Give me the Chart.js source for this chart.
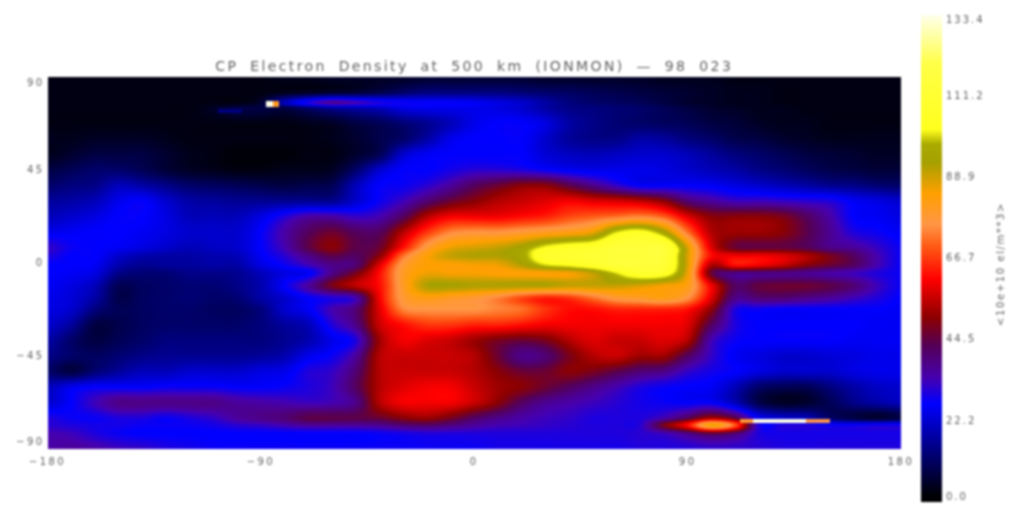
<!DOCTYPE html>
<html>
<head>
<meta charset="utf-8">
<script src="https://cdn.jsdelivr.net/npm/chart.js@4"></script>
<style>
  html, body { margin: 0; background: #fff; overflow: hidden; }
  canvas { position: absolute; top: 0; filter: blur(1px); }
  #map { left: 0; }
  #bar { left: 915px; }
</style>
</head>
<body>
<canvas id="map" width="1013" height="512"></canvas>
<canvas id="bar" width="98" height="512"></canvas>
<script>
// Electron density, one row per latitude
const lons = [-180,-170,-160,-150,-140,-130,-120,-110,-100,-90,-80,-70,-60,-50,-40,-30,-20,-10,0,10,20,30,40,50,60,70,80,90,100,110,120,130,140,150,160,170,180];
const lats = [90,82.5,77.5,75,67.5,60,52.5,45,37.5,30,22.5,15,7.5,3.5,-1,-5,-11,-17,-22.5,-30,-37.5,-45,-52.5,-60,-67.5,-75,-78.5,-82.5,-90];
const density = [
  [3,3,3,3,3,3,3,3,3,3,4,4,5,5,5,5,6,6,6,6,6,5,5,5,5,5,4,4,4,3,3,3,3,3,3,3,3],
  [3,3,3,3,3,3,3,3,3,3,4,5,6,7,9,12,14,14,14,14,13,12,11,10,9,8,7,6,5,4,4,3,3,3,3,3,3],
  [3,3,3,3,3,3,3,3,3,6,20,30,37,34,30,28,27,27,26,24,22,18,14,12,11,10,8,6,5,4,4,3,3,3,3,3,3],
  [3,3,3,3,3,3,3,5,8,8,8,12,16,18,20,24,25,25,25,24,22,18,15,14,13,12,10,8,6,5,4,4,3,3,3,3,3],
  [3,3,3,3,3,3,3,3,3,3,3,4,5,8,10,13,16,20,25,27,27,24,18,15,13,12,11,10,8,7,5,4,4,3,3,3,3],
  [4,4,5,5,5,4,3,3,3,3,3,3,4,6,9,12,18,25,27,27,27,22,17,15,15,18,17,14,12,9,8,6,5,4,4,4,4],
  [4,6,8,8,8,6,4,3,2,2,2,3,3,6,10,22,26,27,27,27,27,23,21,20,21,22,22,20,17,14,12,10,8,7,6,5,5],
  [8,10,12,12,10,7,5,4,3,3,4,4,5,12,22,27,27,29,31,31,30,28,26,25,25,25,24,22,20,18,15,13,11,9,8,7,7],
  [12,14,15,20,18,15,12,11,10,9,8,9,10,20,27,28,31,36,42,46,50,50,44,38,32,27,27,27,26,24,22,20,18,16,15,13,12],
  [17,18,20,25,27,22,18,17,16,16,16,16,16,22,28,33,40,46,50,54,56,58,60,58,57,55,50,40,36,33,33,32,31,30,26,24,22],
  [20,22,24,27,27,24,20,20,20,24,30,35,35,32,34,42,54,60,60,60,62,64,68,70,72,74,70,58,50,50,50,48,42,35,27,26,24],
  [25,26,27,27,26,24,22,22,22,27,35,42,46,42,42,54,66,74,76,76,78,80,82,86,100,104,94,72,54,52,52,50,44,37,30,28,26],
  [32,28,27,26,24,22,20,21,22,27,34,44,50,44,46,62,78,86,88,90,94,102,106,108,114,114,114,88,58,46,45,45,43,38,36,32,28],
  [30,27,27,22,19,18,18,19,20,26,31,38,44,42,50,72,84,90,92,92,96,108,110,112,114,114,114,88,62,60,60,58,54,48,42,34,28],
  [27,27,26,19,16,17,17,18,18,24,28,33,38,40,58,78,84,84,85,86,92,100,103,108,114,114,112,88,54,62,60,56,50,46,42,34,28],
  [27,26,24,15,13,13,15,15,16,20,24,26,38,48,62,80,86,85,85,84,84,84,85,90,100,108,106,86,46,38,38,38,37,35,33,30,28],
  [26,24,20,10,11,12,13,13,15,19,27,36,48,55,62,80,92,93,92,92,92,92,90,90,90,88,85,82,60,42,45,46,46,44,40,33,28],
  [25,23,18,9,11,12,13,12,13,18,22,27,30,34,60,78,82,80,78,74,68,64,66,72,78,80,82,76,58,38,40,40,38,36,33,30,27],
  [24,22,14,10,11,12,12,11,11,14,22,26,34,40,58,74,76,76,76,74,72,66,62,62,64,64,64,62,50,30,28,27,27,27,27,27,26],
  [22,17,8,9,11,12,12,12,12,14,17,20,30,38,56,62,66,66,64,64,62,60,60,60,60,60,60,58,42,30,27,27,27,27,27,26,26],
  [18,12,8,10,12,14,14,14,14,14,16,19,25,30,52,60,58,56,52,48,46,48,54,58,56,56,58,54,34,28,27,27,27,27,26,26,26],
  [15,12,11,13,15,16,16,16,16,17,19,25,28,36,54,56,56,56,54,46,38,40,48,54,56,52,52,42,32,26,24,22,22,23,24,25,25],
  [12,8,13,17,20,20,22,22,22,24,25,30,32,40,54,56,56,56,54,50,46,46,50,48,44,40,38,32,29,27,24,22,22,22,24,25,25],
  [20,25,27,27,27,28,28,28,27,27,28,30,33,42,54,58,60,60,56,52,50,46,42,38,34,30,28,27,26,20,12,10,10,14,18,21,22],
  [22,27,33,38,38,38,38,38,36,35,34,33,34,38,54,60,60,60,56,50,42,37,35,33,31,29,28,27,27,20,9,5,6,10,15,18,20],
  [30,28,28,30,30,28,30,32,36,38,40,44,44,44,46,50,52,48,42,38,35,33,32,30,30,30,34,42,52,44,26,22,20,12,8,6,8],
  [31,30,29,29,28,28,28,29,31,32,34,36,36,36,37,40,41,39,36,34,33,32,31,30,30,31,48,62,86,70,30,30,30,28,28,29,29],
  [34,33,30,28,27,27,27,27,27,27,27,27,27,27,28,29,30,30,30,30,30,30,30,30,30,31,33,38,44,40,30,29,29,29,29,29,29],
  [35,36,35,33,32,30,29,28,28,28,28,28,28,28,28,28,28,28,28,29,29,29,29,29,29,30,30,30,31,31,31,30,30,30,30,30,30]
];
// Narrow hot strips the grid is too coarse for: lon0, lon1, lat0, lat1, value
const hotStrips = [
  [-108,-98,72.5,74.5,14],
  [-88,-85,75.5,78.4,133],
  [-85,-82.5,75.5,78.4,80],
  [112,117.5,-75.5,-77.4,78],
  [117.5,140,-75.5,-77.4,133],
  [140,150,-75.5,-77.4,76]
];
const xTickValues = [-180,-90,0,90,180];
const yTickValues = [87,45,0,-45,-87];
const yTickLabels = ['90','45','0','−45','−90'];
const barTickValues = [1.2,22.2,44.5,66.7,88.9,111.2,132];
const barTickLabels = ['0.0','22.2','44.5','66.7','88.9','111.2','133.4'];
const barMax = 133.4;
// colour table, stops
const cmapStops = [0,2,12,27,34,43,50.5,61,70,76,84.5,93,98,102,120,133.4];
const cmapColors = [[0,0,0],[0,0,8],[0,0,105],[0,0,255],[70,0,175],[85,0,85],[140,0,0],[255,0,0],[255,90,20],[255,150,70],[255,160,0],[165,160,0],[170,170,0],[255,255,30],[255,255,70],[255,255,235]];

const titleText = 'CP Electron Density at 500 km (IONMON) — 98 023';
const unitText = '<10e+10 el/m**3>';
const textColor = '#5f5f5f';

function cmap(v) {
  if (v <= cmapStops[0]) return cmapColors[0];
  for (let i = 1; i < cmapStops.length; i++) {
    if (v <= cmapStops[i]) {
      const t = (v - cmapStops[i - 1]) / (cmapStops[i] - cmapStops[i - 1]);
      const a = cmapColors[i - 1], b = cmapColors[i];
      return [a[0] + (b[0] - a[0]) * t, a[1] + (b[1] - a[1]) * t, a[2] + (b[2] - a[2]) * t];
    }
  }
  return cmapColors[cmapColors.length - 1];
}

function cubic(p0, p1, p2, p3, t) {
  return p1 + 0.5 * t * (p2 - p0 + t * (2 * p0 - 5 * p1 + 4 * p2 - p3 + t * (3 * (p1 - p2) + p3 - p0)));
}

// fractional index of a latitude in lats
function latIndex(lat) {
  for (let i = 1; i < lats.length; i++) {
    if (lat >= lats[i]) return i - 1 + (lats[i - 1] - lat) / (lats[i - 1] - lats[i]);
  }
  return lats.length - 1;
}

function clampIdx(i, n) { return i < 0 ? 0 : i >= n ? n - 1 : i; }

// paints the grid cells pixel by pixel, positions come from the chart scales
const heatPlugin = {
  id: 'heat',
  beforeDraw(chart) {
    chart.ctx.letterSpacing = '2.4px';
    chart.ctx.wordSpacing = '5px';
  },
  beforeDatasetsDraw(chart) {
    const pts = chart.data.datasets[0].data;
    const nc = lons.length, nr = lats.length;
    const cell = (r, c) => pts[clampIdx(r, nr) * nc + clampIdx(c, nc)].v;
    const { left, top, right, bottom } = chart.chartArea;
    const x0 = Math.round(left), y0 = Math.round(top);
    const w = Math.round(right) - x0, h = Math.round(bottom) - y0;
    const img = chart.ctx.createImageData(w, h);
    const xs = chart.scales.x, ys = chart.scales.y;
    for (let py = 0; py < h; py++) {
      const lat = ys.getValueForPixel(y0 + py + 0.5);
      const ry = latIndex(lat), r = Math.floor(ry), tr = ry - r;
      for (let px = 0; px < w; px++) {
        const lon = xs.getValueForPixel(x0 + px + 0.5);
        const cx = (lon - lons[0]) / (lons[1] - lons[0]), c = Math.floor(cx), tc = cx - c;
        const col = [];
        for (let k = -1; k <= 2; k++) {
          col.push(cubic(cell(r + k, c - 1), cell(r + k, c), cell(r + k, c + 1), cell(r + k, c + 2), tc));
        }
        let v = cubic(col[0], col[1], col[2], col[3], tr);
        for (const s of hotStrips) {
          if (lon >= s[0] && lon <= s[1] && lat <= Math.max(s[2], s[3]) && lat >= Math.min(s[2], s[3])) v = Math.max(v, s[4]);
        }
        const rgb = cmap(v), i = (py * w + px) * 4;
        img.data[i] = rgb[0]; img.data[i + 1] = rgb[1]; img.data[i + 2] = rgb[2]; img.data[i + 3] = 255;
      }
    }
    chart.ctx.putImageData(img, x0, y0);
  }
};

// colour bar fill and the unit label
const barPlugin = {
  id: 'colorBar',
  beforeDraw(chart) {
    chart.ctx.letterSpacing = '2px';
  },
  beforeDatasetsDraw(chart) {
    const ctx = chart.ctx, ys = chart.scales.y, a = chart.chartArea;
    const g = ctx.createLinearGradient(0, ys.getPixelForValue(0), 0, ys.getPixelForValue(barMax));
    cmapStops.forEach((s, i) => g.addColorStop(s / barMax, 'rgb(' + cmapColors[i].join(',') + ')'));
    ctx.fillStyle = g;
    ctx.fillRect(a.left, a.top, a.right - a.left, a.bottom - a.top);
  },
  afterDraw(chart) {
    const ctx = chart.ctx;
    ctx.save();
    ctx.translate(86, 264);
    ctx.rotate(-Math.PI / 2);
    ctx.font = '10px "DejaVu Sans"';
    ctx.letterSpacing = '1.6px';
    ctx.fillStyle = textColor;
    ctx.textAlign = 'center';
    ctx.textBaseline = 'middle';
    ctx.fillText(unitText, 0, 0);
    ctx.restore();
  }
};

Chart.defaults.font.family = '"DejaVu Sans"';
Chart.defaults.color = textColor;

const points = [];
lats.forEach((lat, r) => lons.forEach((lon, c) => points.push({ x: lon, y: lat, v: density[r][c] })));

new Chart(document.getElementById('map'), {
  type: 'scatter',
  data: { datasets: [{ data: points, pointRadius: 0, pointHoverRadius: 0 }] },
  plugins: [heatPlugin],
  options: {
    responsive: false,
    animation: false,
    events: [],
    layout: { padding: { top: 60, left: 0, right: 112, bottom: 0 } },
    plugins: {
      legend: { display: false },
      tooltip: { enabled: false },
      title: {
        display: true,
        text: titleText,
        fullSize: false,
        font: { size: 14, weight: 'normal', lineHeight: 1.1 },
        color: textColor,
        padding: { top: 0, bottom: 1.6 }
      }
    },
    scales: {
      x: {
        type: 'linear', min: -180, max: 180,
        grid: { display: false, drawTicks: false },
        border: { display: false },
        afterFit: s => { s.height = 63; },
        afterBuildTicks: s => { s.ticks = xTickValues.map(v => ({ value: v })); },
        ticks: {
          padding: 7, maxRotation: 0, autoSkip: false,
          font: { size: 10 },
          callback: v => String(v).replace('-', '−')
        }
      },
      y: {
        type: 'linear', min: -90, max: 90,
        grid: { display: false, drawTicks: false },
        border: { display: false },
        afterFit: s => { s.width = 47.5; },
        afterBuildTicks: s => { s.ticks = yTickValues.map(v => ({ value: v })); },
        ticks: {
          padding: 3, autoSkip: false,
          font: { size: 10 },
          callback: (v, i) => yTickLabels[i]
        }
      }
    }
  }
});

new Chart(document.getElementById('bar'), {
  type: 'scatter',
  data: { datasets: [{ data: [], pointRadius: 0 }] },
  plugins: [barPlugin],
  options: {
    responsive: false,
    animation: false,
    events: [],
    layout: { padding: { top: 15, left: 6, right: 0, bottom: 2 } },
    plugins: { legend: { display: false }, tooltip: { enabled: false } },
    scales: {
      x: { display: false },
      y: {
        position: 'right', min: 0, max: barMax,
        grid: { display: false, drawTicks: false },
        border: { display: false },
        afterFit: s => { s.width = 71; },
        afterBuildTicks: s => { s.ticks = barTickValues.map(v => ({ value: v })); },
        ticks: {
          padding: 4, autoSkip: false,
          font: { size: 10 },
          callback: (v, i) => barTickLabels[i]
        }
      }
    }
  }
});
</script>
</body>
</html>
